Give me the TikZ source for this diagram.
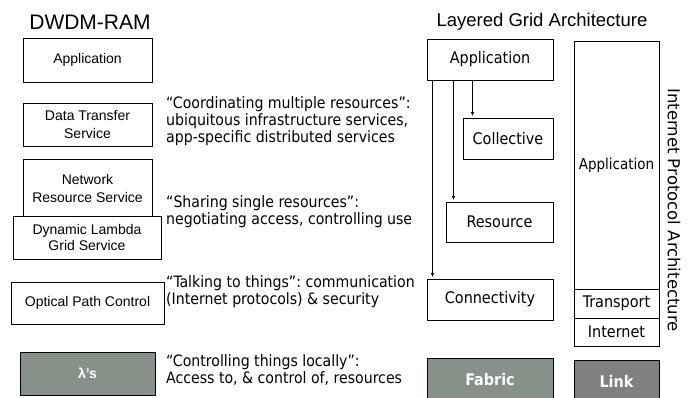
\documentclass[tikz,border=0pt]{standalone}
\usepackage{fontspec}
\setmainfont{Liberation Sans}
\newfontfamily\tahfont{DejaVu Sans Condensed}
\newfontfamily\verfont{DejaVu Sans}
\usetikzlibrary{arrows.meta}
\definecolor{lamgreen}{HTML}{879189}
\definecolor{linkgray}{HTML}{808080}
\frenchspacing

\begin{document}
\begin{tikzpicture}[x=1pt, y=-1pt,
  ramblock/.style={draw=black, line width=1pt, fill=white, inner sep=0, align=center, font=\fontsize{14}{18}\selectfont},
  gridblock/.style={ramblock, font=\tahfont\fontsize{16}{19}\selectfont},
  darkblock/.style={ramblock, fill=lamgreen, text=white},
  heading/.style={font=\fontsize{18.5}{22}\selectfont},
  remark/.style={anchor=west, inner sep=0, align=left, font=\tahfont\fontsize{15.7}{16.8}\selectfont},
  flow/.style={->, line width=0.7pt, shorten >=1.5pt},
  >={Latex[length=4pt, width=3.5pt]}
]
\useasboundingbox (0,0) rectangle (697,397);

% DWDM-RAM column
\node[heading, font=\fontsize{21}{24}\selectfont] (ramtitle) at (90,22) {DWDM-RAM};
\node[ramblock, minimum width=129, minimum height=44] (lapp) at (87.5,60) {Application};
\node[ramblock, minimum width=129, minimum height=43] (ldts) at (87.5,124.5) {Data Transfer\\Service};
\node[ramblock, minimum width=129, minimum height=57] (lnrs) at (87.5,188) {Network\\Resource Service};
\node[ramblock, minimum width=148, minimum height=43] (ldlg) at (87,237.5) {Dynamic Lambda\\[-2pt]Grid Service};
\node[ramblock, minimum width=153, minimum height=42] (lopc) at (87.5,303) {Optical Path Control};
\node[darkblock, minimum width=135, minimum height=43, font=\bfseries\fontsize{14}{17}\selectfont] (llam) at (87.5,373.5) {λ’s};

% remarks in between
\node[remark] (coord) at (166,121) {“Coordinating multiple resources”:\\ubiquitous infrastructure services,\\app-specific distributed services};
\node[remark] (share) at (166,211.5) {“Sharing single resources”:\\negotiating access, controlling use};
\node[remark] (talk) at (166,291.5) {“Talking to things”: communication\\(Internet protocols) \& security};
\node[remark] (ctrl) at (166,370) {“Controlling things locally”:\\Access to, \& control of, resources};

% layered grid architecture
\node[heading] (gridtitle) at (542,22) {Layered Grid Architecture};
\node[gridblock, minimum width=126, minimum height=41] (rapp) at (490,59.5) {Application};
\node[gridblock, minimum width=90, minimum height=41] (rcol) at (508,138.5) {Collective};
\node[gridblock, minimum width=107, minimum height=40] (rres) at (499.5,222) {Resource};
\node[gridblock, minimum width=126, minimum height=41] (rcon) at (490,299.5) {Connectivity};
\node[gridblock, darkblock, minimum width=126, minimum height=44, font=\tahfont\bfseries\fontsize{16}{19}\selectfont] (rfab) at (490,380) {Fabric};

\coordinate (c1) at ([xshift=6pt]rapp.south west);
\coordinate (c2) at ([xshift=27pt]rapp.south west);
\coordinate (c3) at ([xshift=46pt]rapp.south west);
\draw[flow] (c1) -- (c1 |- rcon.north);
\draw[flow] (c2) -- (c2 |- rres.north);
\draw[flow] (c3) -- (c3 |- rcol.north);

% internet protocol architecture
\node[gridblock, minimum width=85, minimum height=248, font=\tahfont\fontsize{15}{18}\selectfont] (ipapp) at (616.5,165) {Application};
\node[gridblock, minimum width=85, minimum height=29, font=\tahfont\fontsize{16}{18}\selectfont] (iptra) at (616.5,303.5) {Transport};
\node[gridblock, minimum width=85, minimum height=28, font=\tahfont\fontsize{16}{18}\selectfont] (ipint) at (616.5,332) {Internet};
\node[darkblock, fill=linkgray, minimum width=85, minimum height=42, font=\tahfont\bfseries\fontsize{16}{19}\selectfont] (iplink) at (616.5,381) {Link};
\node[rotate=-90, inner sep=0, font=\verfont\fontsize{16.5}{18}\selectfont] (iptitle) at (674,210) {Internet Protocol Architecture};
\end{tikzpicture}
\end{document}
